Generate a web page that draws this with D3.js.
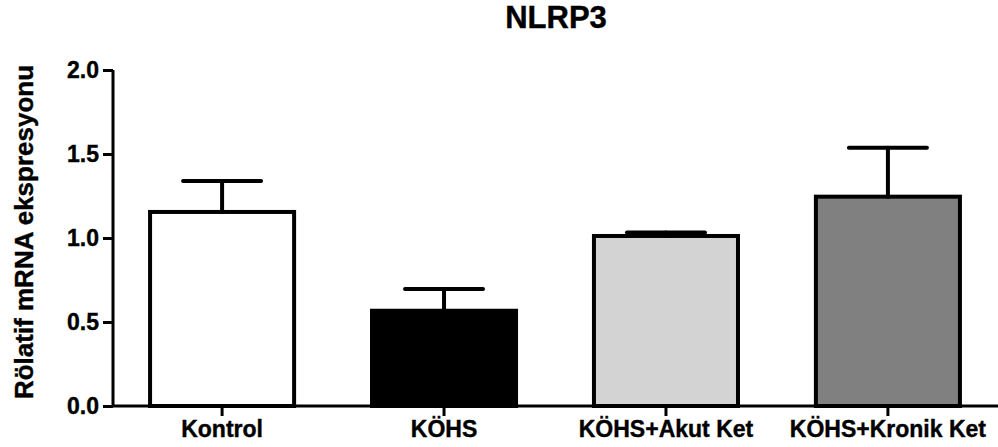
<!DOCTYPE html>
<html>
<head>
<meta charset="utf-8">
<script src="https://cdn.jsdelivr.net/npm/d3@7"></script>
<style>
  body { margin: 0; background: #fff; }
  svg text { font-family: "Liberation Sans", Arial, sans-serif; font-weight: bold; fill: #000; stroke: #000; stroke-width: 0.4px; }
</style>
</head>
<body>
<svg id="chart"></svg>
<script>
// groups, means and SEM
var groups = ["Kontrol", "KÖHS", "KÖHS+Akut Ket", "KÖHS+Kronik Ket"];
var means = [1.155, 0.567, 1.012, 1.246];
var sems = [0.185, 0.129, 0.02, 0.291];
var fills = ["#ffffff", "#000000", "#d3d3d3", "#808080"];
var yTicks = [0, 0.5, 1.0, 1.5, 2.0];

var w = 998, h = 447;
var svg = d3.select("#chart").attr("width", w).attr("height", h);

var x = d3.scaleBand()
  .domain(groups)
  .range([113, 997])
  .paddingInner(0.333)
  .paddingOuter(0.158);

var y = d3.scaleLinear().domain([0, 2]).range([406, 70]);

var data = groups.map(function (g, i) {
  return { name: g, mean: means[i], sem: sems[i], fill: fills[i] };
});

// bars
svg.selectAll("rect.bar")
  .data(data)
  .enter()
  .append("rect")
  .attr("class", "bar")
  .attr("x", function (d) { return x(d.name) + 2; })
  .attr("width", x.bandwidth() - 4)
  .attr("y", function (d) { return y(d.mean); })
  .attr("height", function (d) { return y(0) - y(d.mean); })
  .attr("fill", function (d) { return d.fill; })
  .attr("stroke", "#000")
  .attr("stroke-width", 4);

// error bars (upper only)
var err = svg.selectAll("g.err")
  .data(data)
  .enter()
  .append("g")
  .attr("class", "err")
  .attr("stroke", "#000")
  .attr("stroke-width", 4)
  .attr("stroke-linecap", "round");

err.append("line")
  .attr("x1", function (d) { return x(d.name) + x.bandwidth() / 2; })
  .attr("x2", function (d) { return x(d.name) + x.bandwidth() / 2; })
  .attr("y1", function (d) { return y(d.mean); })
  .attr("y2", function (d) { return y(d.mean + d.sem); });

err.append("line")
  .attr("x1", function (d) { return x(d.name) + x.bandwidth() / 2 - 39; })
  .attr("x2", function (d) { return x(d.name) + x.bandwidth() / 2 + 39; })
  .attr("y1", function (d) { return y(d.mean + d.sem); })
  .attr("y2", function (d) { return y(d.mean + d.sem); });

// axes
var yAxis = svg.append("g")
  .attr("transform", "translate(113,0)")
  .call(d3.axisLeft(y).tickValues(yTicks).tickFormat(d3.format(".1f")).tickSize(10).tickSizeOuter(0).tickPadding(4));

var xAxis = svg.append("g")
  .attr("transform", "translate(0,406)")
  .call(d3.axisBottom(x).tickSize(10).tickSizeOuter(0).tickPadding(5));

[yAxis, xAxis].forEach(function (a) {
  a.selectAll("path, line").attr("stroke", "#000").attr("stroke-width", 3);
  a.selectAll("text").attr("font-size", "23px").attr("fill", "#000")
    .attr("font-family", "'Liberation Sans', Arial, sans-serif").attr("font-weight", "bold");
});
yAxis.select("path.domain").attr("d", "M0,406V70");
xAxis.select("path.domain").attr("d", "M112,0H998");

// title
svg.append("text")
  .attr("x", 556)
  .attr("y", 28)
  .attr("text-anchor", "middle")
  .attr("font-size", "31px")
  .text("NLRP3");

// y label
svg.append("text")
  .attr("transform", "translate(33,232) rotate(-90)")
  .attr("text-anchor", "middle")
  .attr("font-size", "26px")
  .text("Rölatif mRNA ekspresyonu");
</script>
</body>
</html>
